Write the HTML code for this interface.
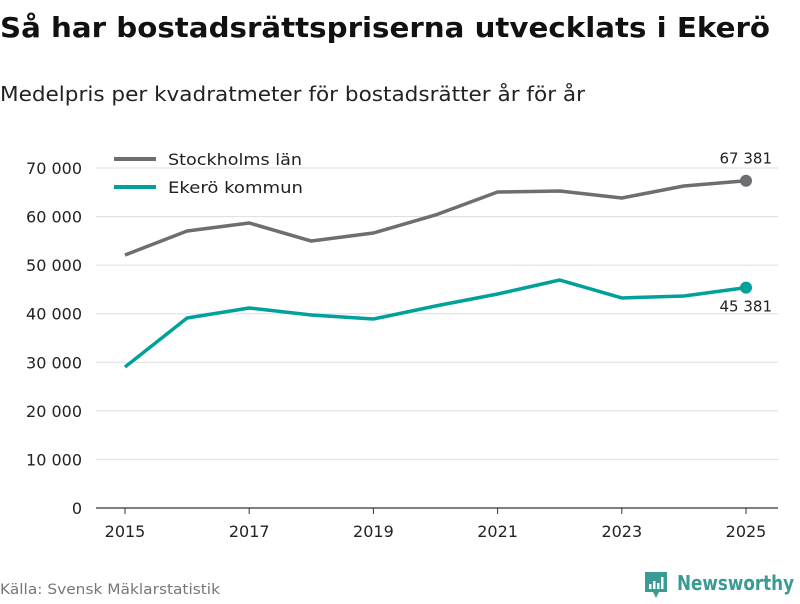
<!DOCTYPE html>
<html><head><meta charset="utf-8"><style>
body{margin:0;width:800px;height:600px;background:#fff;font-family:"DejaVu Sans","Liberation Sans",sans-serif;overflow:hidden}
svg text{font-family:"DejaVu Sans","Liberation Sans",sans-serif}
</style></head><body>
<svg id="c" width="800" height="600" xmlns="http://www.w3.org/2000/svg">
<text x="0" y="37" font-size="28" font-weight="bold" fill="#111" textLength="770" lengthAdjust="spacingAndGlyphs">Så har bostadsrättspriserna utvecklats i Ekerö</text>
<text x="0" y="101" font-size="20" fill="#222" textLength="585" lengthAdjust="spacingAndGlyphs">Medelpris per kvadratmeter för bostadsrätter år för år</text>
<g id="grid"></g><g id="xt"></g><g id="lines"></g>
<g>
<line x1="114" y1="159" x2="156" y2="159" stroke="#6d6d72" stroke-width="4"/>
<text x="168" y="165" font-size="16" fill="#222" textLength="134" lengthAdjust="spacingAndGlyphs">Stockholms län</text>
<line x1="114" y1="187" x2="156" y2="187" stroke="#00a19a" stroke-width="4"/>
<text x="168" y="193" font-size="16" fill="#222" textLength="135" lengthAdjust="spacingAndGlyphs">Ekerö kommun</text>
</g>
<text x="0" y="594" font-size="14" fill="#777" textLength="220" lengthAdjust="spacingAndGlyphs">Källa: Svensk Mäklarstatistik</text>
<g>
<path d="M645 572h22v20h-8l-3 6-3-6h-8z" fill="#3a9a94"/>
<rect x="649" y="584" width="2.5" height="5" fill="#fff"/><rect x="653" y="581" width="2.5" height="8" fill="#fff"/><rect x="657" y="583" width="2.5" height="6" fill="#fff"/><rect x="661" y="577" width="2.5" height="12" fill="#fff"/>
<text x="677" y="590" font-size="20" font-weight="bold" fill="#3a9a94" textLength="117" lengthAdjust="spacingAndGlyphs">Newsworthy</text>
</g>
</svg>
<script>
const years=[2015,2016,2017,2018,2019,2020,2021,2022,2023,2024,2025];
const stockholm=[52090,57030,58680,54970,56620,60330,65060,65270,63830,66300,67381];
const ekero=[29030,39120,41180,39740,38910,41590,44060,46940,43240,43650,45381];
const yTicks=[0,10000,20000,30000,40000,50000,60000,70000];
const xTicks=[2015,2017,2019,2021,2023,2025];
const NS="http://www.w3.org/2000/svg";
const xs=y=>125+(y-2015)*62.1;
const ys=v=>508-v/10000*48.57;
const fmt=v=>String(Math.round(v)).replace(/\B(?=(\d{3})+(?!\d))/g," ");
function mk(t,a,p){const e=document.createElementNS(NS,t);for(const k in a)e.setAttribute(k,a[k]);p.appendChild(e);return e;}
const grid=document.getElementById('grid');
yTicks.forEach(v=>{
 const l=mk('line',{x1:96,x2:778,y1:ys(v),y2:ys(v),stroke:v===0?'#333':'#ddd','stroke-width':v===0?1.2:1},grid);
 
 
 const t=mk('text',{x:82,y:ys(v)+6,'text-anchor':'end','font-size':16,fill:'#222'},grid);t.textContent=fmt(v);
 
 
});
const xt=document.getElementById('xt');
xTicks.forEach(y=>{
 const l=mk('line',{x1:xs(y),x2:xs(y),y1:508,y2:514,stroke:'#333'},xt);
 
 
 const t=mk('text',{x:xs(y),y:537,'text-anchor':'middle','font-size':16,fill:'#222'},xt);t.textContent=y;
 
 
});
const lg=document.getElementById('lines');
function series(vals,col,name,dy){
 const p=mk('polyline',{points:vals.map((v,i)=>xs(years[i])+','+ys(v)).join(' '),fill:'none',stroke:col,'stroke-width':3.5,'stroke-linejoin':'round'},lg);
 
 
 const n=vals.length-1;
 const c=mk('circle',{cx:xs(years[n]),cy:ys(vals[n]),r:6,fill:col},lg);
 
 
 const t=mk('text',{x:772,y:ys(vals[n])+dy,'text-anchor':'end','font-size':15,fill:'#222'},lg);t.textContent=fmt(vals[n]);
 
 
}
series(stockholm,'#6d6d72','stockholm',-17);
series(ekero,'#00a19a','ekero',24);
</script>
</body></html>
